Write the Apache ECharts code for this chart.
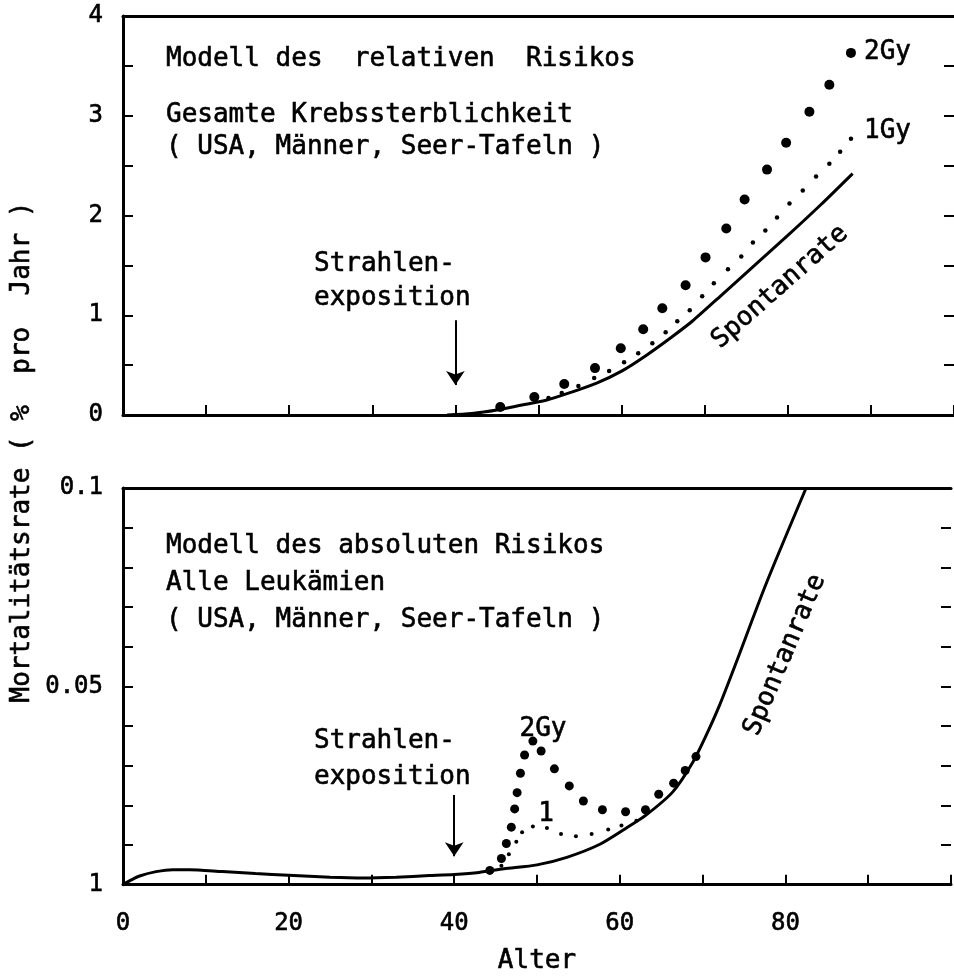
<!DOCTYPE html>
<html>
<head>
<meta charset="utf-8">
<script src="https://cdn.jsdelivr.net/npm/echarts@6/dist/echarts.min.js"></script>
<style>
  html, body { margin: 0; padding: 0; background: #fff; }
  #chart { width: 954px; height: 976px; }
</style>
</head>
<body>
<div id="chart"></div>
<script>
// Oben: Modell des relativen Risikos (% pro Jahr)
const relSpontAge = [39, 42, 45, 48, 51, 54, 57, 60, 63, 66, 68.5, 72, 76, 80, 84, 87.8]
const relSpontRate = [0, 0.015, 0.05, 0.1, 0.15, 0.23, 0.32, 0.44, 0.6, 0.78, 0.94, 1.2, 1.5, 1.8, 2.11, 2.42]
const rel2GyAge = [45.4, 49.5, 53.1, 56.8, 59.9, 62.6, 64.9, 67.7, 70.1, 72.6, 74.8, 77.5, 79.8, 82.6, 85.0, 87.6]
const rel2GyRate = [0.08, 0.18, 0.31, 0.47, 0.67, 0.86, 1.07, 1.3, 1.58, 1.87, 2.16, 2.46, 2.73, 3.04, 3.31, 3.63]
const rel1GyAge = [51.2, 52.8, 54.8, 56.7, 58.5, 60.3, 62.0, 63.7, 65.3, 66.7, 68.2, 69.7, 71.1, 72.8, 74.4, 75.8, 77.3, 78.7, 80.2, 81.8, 83.4, 85.0, 86.3, 87.6]
const rel1GyRate = [0.17, 0.22, 0.29, 0.37, 0.44, 0.53, 0.62, 0.72, 0.83, 0.94, 1.05, 1.19, 1.32, 1.46, 1.59, 1.73, 1.85, 1.98, 2.12, 2.25, 2.39, 2.52, 2.64, 2.77]

// Unten: Modell des absoluten Risikos, alle Leukämien
const absSpontAge = [0, 1, 2, 4, 6, 8, 12, 16, 20, 25, 29, 33, 37, 40, 43, 46, 50, 53.6, 57.6, 60.8, 63.2, 66.4, 68.8, 70.4, 72, 74, 77.6, 82.5]
const absSpontRate = [0, 0.0012, 0.0022, 0.0033, 0.0038, 0.0038, 0.0033, 0.0028, 0.0024, 0.0019, 0.0017, 0.0019, 0.0023, 0.0026, 0.0031, 0.004, 0.005, 0.0069, 0.0102, 0.0143, 0.0176, 0.0234, 0.0308, 0.0375, 0.045, 0.0557, 0.0755, 0.1]
const abs2GyAge = [44.3, 45.7, 46.3, 46.9, 47.3, 47.6, 48.0, 48.5, 49.5, 50.5, 52.1, 53.9, 55.6, 57.9, 60.7, 63.1, 64.7, 66.5, 67.9, 69.2]
const abs2GyRate = [0.0036, 0.0066, 0.0104, 0.0145, 0.0191, 0.0232, 0.0281, 0.0327, 0.0362, 0.0337, 0.0292, 0.0249, 0.0211, 0.0189, 0.0184, 0.0189, 0.0228, 0.0256, 0.0288, 0.0323]
const abs1GyAge = [45.7, 46.6, 47.5, 48.2, 49.5, 51.2, 52.9, 54.7, 56.6, 58.6, 60.2, 62.0]
const abs1GyRate = [0.0048, 0.0077, 0.0108, 0.0132, 0.0147, 0.0143, 0.0128, 0.0122, 0.0128, 0.0139, 0.0149, 0.0161]

const xTickLabels = ['0', '20', '40', '60', '80']
const upperYTickLabels = ['0', '1', '2', '3', '4']
const lowerYTickValues = [0, 0.05, 0.1]
const lowerYTickLabels = ['1', '0.05', '0.1']

const zip = (xs, ys) => xs.map((x, i) => [x, ys[i]])
const FONT = '"DejaVu Sans Mono", monospace'
const txt = (text, x, y, opts = {}) => ({
    type: 'text',
    x, y,
    rotation: opts.rotation || 0,
    silent: true,
    style: {
        text,
        font: (opts.size || 26) + 'px ' + FONT,
        fill: '#000',
        stroke: '#000',
        lineWidth: 0.6,
        align: opts.align || 'left',
        verticalAlign: 'middle',
        textAlign: opts.align || 'left',
        textVerticalAlign: 'middle',
    },
})

const myChart = echarts.init(document.getElementById('chart'))

const labelStyle = {
    color: '#000',
    fontFamily: FONT,
    fontSize: 24,
    textBorderColor: '#000',
    textBorderWidth: 0.6,
}
const blackLine = { color: '#000', width: 3 }
const tickStyle = { show: true, inside: true, length: 10, lineStyle: { color: '#000', width: 2 } }

const xAxisBottom = (gridIndex, showLabels) => ({
    type: 'value',
    gridIndex,
    min: 0,
    max: 100,
    interval: 10,
    axisLine: { show: true, onZero: false, lineStyle: blackLine },
    axisTick: tickStyle,
    splitLine: { show: false },
    axisLabel: {
        ...labelStyle,
        show: showLabels,
        margin: 27,
        formatter: (v) => (xTickLabels.includes(String(v)) ? String(v) : ''),
    },
})
// obere Rahmenlinie
const xAxisTop = (gridIndex) => ({
    type: 'value',
    gridIndex,
    position: 'top',
    min: 0,
    max: 100,
    axisLine: { show: true, onZero: false, lineStyle: blackLine },
    axisTick: { show: false },
    axisLabel: { show: false },
    splitLine: { show: false },
})
const yAxisLeft = (gridIndex, max, interval, formatter) => ({
    type: 'value', gridIndex, min: 0, max, interval,
    axisLine: { show: true, onZero: false, lineStyle: blackLine },
    axisTick: tickStyle,
    splitLine: { show: false },
    axisLabel: { ...labelStyle, margin: 20, formatter },
})
const yAxisRight = (gridIndex, max, interval) => ({
    type: 'value', gridIndex, position: 'right', min: 0, max, interval,
    axisLine: { show: false, onZero: false },
    axisTick: tickStyle,
    splitLine: { show: false },
    axisLabel: { show: false },
})

const option = {
    animation: false,
    backgroundColor: '#fff',
    grid: [
        { left: 123, top: 16, width: 834, height: 399 },
        { left: 123, top: 488, width: 834, height: 403 },
    ],
    xAxis: [
        xAxisBottom(0, false),
        {
            ...xAxisBottom(1, true),
            name: 'Alter',
            nameLocation: 'middle',
            nameGap: 64,
            nameTextStyle: { ...labelStyle, fontSize: 26 },
        },
        xAxisTop(0),
        xAxisTop(1),
    ],
    yAxis: [
        yAxisLeft(0, 4, 0.5, (v) => (upperYTickLabels.includes(String(v)) ? String(v) : '')),
        yAxisRight(0, 4, 0.5),
        yAxisLeft(1, 0.1, 0.01, (v) => {
            const i = lowerYTickValues.findIndex((t) => Math.abs(t - v) < 1e-9)
            return i >= 0 ? lowerYTickLabels[i] : ''
        }),
        yAxisRight(1, 0.1, 0.01),
    ],
    series: [
        {
            name: 'Spontanrate rel',
            type: 'line',
            xAxisIndex: 0,
            yAxisIndex: 0,
            smooth: 0.25,
            symbol: 'none',
            lineStyle: { color: '#000', width: 3 },
            data: zip(relSpontAge, relSpontRate),
            markLine: {
                silent: true,
                symbol: ['none', 'arrow'],
                symbolSize: 14,
                label: { show: false },
                lineStyle: { color: '#000', width: 2, type: 'solid' },
                data: [[{ coord: [40, 0.95] }, { coord: [40, 0.3] }]],
            },
        },
        {
            name: '2Gy rel',
            type: 'scatter',
            xAxisIndex: 0,
            yAxisIndex: 0,
            symbolSize: 10,
            itemStyle: { color: '#000', opacity: 1 },
            data: zip(rel2GyAge, rel2GyRate),
        },
        {
            name: '1Gy rel',
            type: 'scatter',
            xAxisIndex: 0,
            yAxisIndex: 0,
            symbolSize: 4.5,
            itemStyle: { color: '#000', opacity: 1 },
            data: zip(rel1GyAge, rel1GyRate),
        },
        {
            name: 'Spontanrate abs',
            type: 'line',
            xAxisIndex: 1,
            yAxisIndex: 2,
            smooth: 0.25,
            symbol: 'none',
            lineStyle: { color: '#000', width: 3 },
            data: zip(absSpontAge, absSpontRate),
            markLine: {
                silent: true,
                symbol: ['none', 'arrow'],
                symbolSize: 14,
                label: { show: false },
                lineStyle: { color: '#000', width: 2, type: 'solid' },
                data: [[{ coord: [40, 0.0226] }, { coord: [40, 0.0072] }]],
            },
        },
        {
            name: '2Gy abs',
            type: 'scatter',
            xAxisIndex: 1,
            yAxisIndex: 2,
            symbolSize: 9,
            itemStyle: { color: '#000', opacity: 1 },
            data: zip(abs2GyAge, abs2GyRate),
        },
        {
            name: '1Gy abs',
            type: 'scatter',
            xAxisIndex: 1,
            yAxisIndex: 2,
            symbolSize: 4,
            itemStyle: { color: '#000', opacity: 1 },
            data: zip(abs1GyAge, abs1GyRate),
        },
    ],
    graphic: [
        // oberes Diagramm
        txt('Modell des  relativen  Risikos', 166, 59),
        txt('Gesamte Krebssterblichkeit', 166, 115),
        txt('( USA, Männer, Seer-Tafeln )', 166, 147),
        txt('Strahlen-', 314, 264),
        txt('exposition', 314, 298),
        txt('2Gy', 864, 52),
        txt('1Gy', 864, 131),
        txt('Spontanrate', 780, 287, { align: 'center', rotation: 41.5 * Math.PI / 180 }),
        // unteres Diagramm
        txt('Modell des absoluten Risikos', 166, 546),
        txt('Alle Leukämien', 166, 583),
        txt('( USA, Männer, Seer-Tafeln )', 166, 620),
        txt('Strahlen-', 314, 741),
        txt('exposition', 314, 777),
        txt('2Gy', 543, 729, { align: 'center' }),
        txt('1', 546, 814, { align: 'center' }),
        txt('Spontanrate', 785, 655, { align: 'center', rotation: 67 * Math.PI / 180 }),
        // gemeinsame y-Achsenbeschriftung
        txt('Mortalitätsrate ( %  pro  Jahr )', 22, 452, { align: 'center', rotation: Math.PI / 2 }),
    ],
}

option && myChart.setOption(option)
</script>
</body>
</html>
